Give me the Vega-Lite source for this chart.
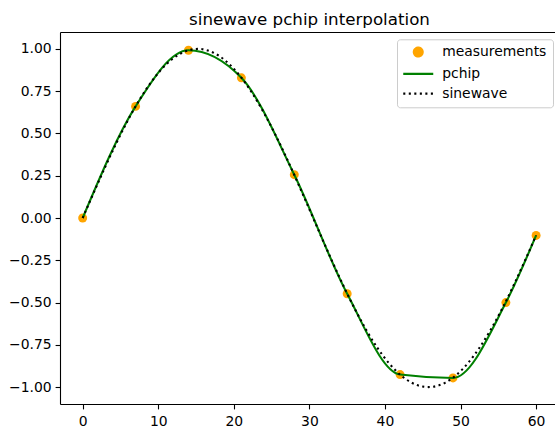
{
  "$schema": "https://vega.github.io/schema/vega-lite/v6.json",
  "autosize": "none",
  "width": 495,
  "height": 372,
  "padding": {"left": 60, "top": 32, "right": 0, "bottom": 23},
  "background": "white",
  "title": {
    "text": "sinewave pchip interpolation",
    "font": "DejaVu Sans",
    "fontSize": 16.7,
    "fontWeight": "normal",
    "color": "black",
    "anchor": "middle",
    "frame": "group",
    "baseline": "alphabetic",
    "offset": -10,
    "dx": 2
  },
  "config": {
    "font": "DejaVu Sans",
    "view": {"stroke": null},
    "axis": {
      "grid": false,
      "domainColor": "black",
      "domainWidth": 1.1,
      "tickColor": "black",
      "tickWidth": 1.1,
      "tickSize": 4.9,
      "labelFont": "DejaVu Sans",
      "labelFontSize": 13.9,
      "labelColor": "black",
      "title": null
    }
  },
  "datasets": {
    "measurements": [
      {"x": 0, "y": 0.0},
      {"x": 7, "y": 0.660},
      {"x": 14, "y": 0.992},
      {"x": 21, "y": 0.829},
      {"x": 28, "y": 0.256},
      {"x": 35, "y": -0.448},
      {"x": 42, "y": -0.926},
      {"x": 49, "y": -0.946},
      {"x": 56, "y": -0.500},
      {"x": 60, "y": -0.103}
    ],
    "sinewave": [
      {"x": 0, "y": 0.0},
      {"x": 3, "y": 0.3041},
      {"x": 6, "y": 0.5794},
      {"x": 9, "y": 0.7999},
      {"x": 12, "y": 0.9445},
      {"x": 15, "y": 0.9997},
      {"x": 18, "y": 0.9602},
      {"x": 21, "y": 0.8297},
      {"x": 24, "y": 0.6206},
      {"x": 27, "y": 0.3527},
      {"x": 30, "y": 0.0515},
      {"x": 33, "y": -0.2547},
      {"x": 36, "y": -0.5367},
      {"x": 39, "y": -0.7679},
      {"x": 42, "y": -0.9263},
      {"x": 45, "y": -0.9970},
      {"x": 48, "y": -0.9733},
      {"x": 51, "y": -0.8573},
      {"x": 54, "y": -0.6602},
      {"x": 57, "y": -0.4005},
      {"x": 60, "y": -0.1028}
    ]
  },
  "resolve": {"axis": {"x": "independent"}},
  "layer": [
    {
      "data": {"name": "measurements"},
      "mark": {"type": "point", "filled": true, "size": 80, "opacity": 1, "strokeWidth": 0, "shape": "circle"},
      "encoding": {
        "x": {
          "field": "x", "type": "quantitative",
          "scale": {"domain": [-3, 62.5], "nice": false, "zero": false},
          "axis": {"orient": "bottom", "values": [0, 10, 20, 30, 40, 50, 60], "format": "d", "labelPadding": 6, "title": null}
        },
        "y": {
          "field": "y", "type": "quantitative",
          "scale": {"domain": [-1.1, 1.1], "nice": false, "zero": false},
          "axis": {"values": [-1, -0.75, -0.5, -0.25, 0, 0.25, 0.5, 0.75, 1], "format": ".2f", "labelPadding": 4, "title": null}
        },
        "color": {
          "datum": "measurements",
          "scale": {"domain": ["measurements", "pchip", "sinewave"], "range": ["#ffa500", "#008000", "#000000"]},
          "legend": {
            "orient": "none", "legendX": 337, "legendY": 7.3,
            "title": null,
            "fillColor": "rgba(255,255,255,0.8)",
            "strokeColor": "#cccccc",
            "cornerRadius": 3,
            "padding": 5.8,
            "rowPadding": 4.8,
            "labelFont": "DejaVu Sans",
            "labelFontSize": 13.9,
            "labelColor": "black",
            "symbolSize": 100,
            "symbolType": "M-3,0H3",
            "symbolOffset": 8.5,
            "labelOffset": 17,
            "symbolStrokeWidth": 2.08,
            "encoding": {
              "symbols": {
                "shape": {"value": {"expr": "datum.value === 'measurements' ? 'circle' : 'M-3,0H3'"}},
                "size": {"value": {"expr": "datum.value === 'measurements' ? 80 : 100"}},
                "fill": {"value": {"expr": "datum.value === 'measurements' ? '#ffa500' : 'transparent'"}},
                "stroke": {"value": {"expr": "datum.value === 'measurements' ? 'transparent' : (datum.value === 'pchip' ? '#008000' : '#000000')"}},
                "strokeDash": {"value": {"expr": "datum.value === 'sinewave' ? [2.08, 3.44] : [1, 0]"}},
                "strokeWidth": {"value": 2.08},
                "opacity": {"value": 1}
              }
            }
          }
        }
      }
    },
    {
      "data": {"name": "measurements"},
      "mark": {"type": "line", "interpolate": "monotone", "strokeWidth": 2.08},
      "encoding": {
        "x": {"field": "x", "type": "quantitative", "axis": {"orient": "top", "labels": false, "ticks": false, "domain": true, "grid": false, "title": null}},
        "y": {"field": "y", "type": "quantitative"},
        "color": {"datum": "pchip"}
      }
    },
    {
      "data": {"name": "sinewave"},
      "mark": {"type": "line", "interpolate": "natural", "strokeWidth": 2.08, "strokeDash": [2.08, 3.44]},
      "encoding": {
        "x": {"field": "x", "type": "quantitative", "axis": null},
        "y": {"field": "y", "type": "quantitative"},
        "color": {"datum": "sinewave"}
      }
    }
  ]
}
